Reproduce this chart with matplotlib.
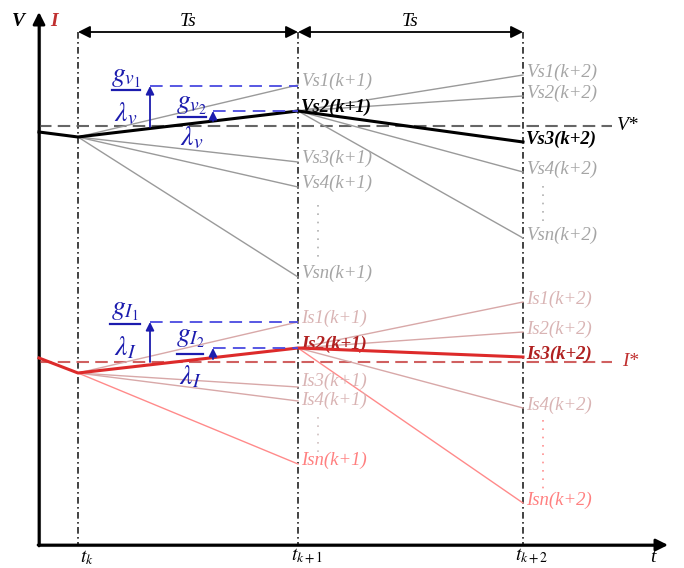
import matplotlib
matplotlib.use("Agg")
import matplotlib.pyplot as plt

plt.rcParams['mathtext.fontset'] = 'stix'
SERIF = 'Liberation Serif'

# ---- data (schematic coordinates, y grows downward) ----
t_pos = [78, 298, 523]
t_labels = [r'$t_k$', r'$t_{k+1}$', r'$t_{k+2}$']
origin_x = 39
axis_y = 545

v_ref = 126
v_path_y = [132, 137, 111, 142]          # at origin, t_k, t_k+1, t_k+2
vs_k1 = [85, 111, 162, 187, 277]
vs_k2 = [75, 96, 142, 172, 238]
vs_names = ['Vs1', 'Vs2', 'Vs3', 'Vs4', 'Vsn']

i_ref = 362
i_path_y = [358, 373, 348, 357]
is_k1 = [322, 348, 387, 401, 464]
is_k2 = [302, 332, 357, 408, 503]
is_names = ['Is1', 'Is2', 'Is3', 'Is4', 'Isn']

sel_k1 = 1   # chosen at k+1
sel_k2 = 2   # chosen at k+2

fig = plt.figure(figsize=(6.84, 5.68), dpi=100)
ax = fig.add_axes([0, 0, 1, 1])
ax.set_xlim(0, 684)
ax.set_ylim(568, 0)
ax.axis('off')

# axes
ax.annotate('', xy=(origin_x, 12), xytext=(origin_x, axis_y + 1),
            arrowprops=dict(arrowstyle='-|>', color='black', lw=2, mutation_scale=18,
                            shrinkA=0, shrinkB=0))
ax.annotate('', xy=(668, axis_y), xytext=(origin_x - 1, axis_y),
            arrowprops=dict(arrowstyle='-|>', color='black', lw=2, mutation_scale=18,
                            shrinkA=0, shrinkB=0))
ax.plot([origin_x, 660], [axis_y, axis_y], color='#555555', lw=2.2, solid_capstyle='butt')
ax.plot([origin_x, origin_x], [axis_y, 22], color='#555555', lw=2.2, solid_capstyle='butt')

ax.text(18, 22, 'V', fontsize=14, family=SERIF, style='italic', weight='bold', ha='center', va='center')
ax.text(54, 22, 'I', fontsize=14, family=SERIF, style='italic', weight='bold', color='#c03030',
        ha='center', va='center')
ax.text(653, 566, 't', fontsize=14, family=SERIF, style='italic', ha='center', va='bottom')

# vertical dash-dot lines and time labels
for x, lab in zip(t_pos, t_labels):
    ax.plot([x, x], [32, axis_y], color='#222222', lw=1.2, ls=(0, (4, 2, 1, 2)))
    ax.text(x + 9, 567, lab, fontsize=14, ha='center', va='bottom')

# Ts arrows
for a, b in [(t_pos[0], t_pos[1]), (t_pos[1], t_pos[2])]:
    ax.annotate('', xy=(b, 32), xytext=(a, 32),
                arrowprops=dict(arrowstyle='<|-|>', color='black', lw=1.3, mutation_scale=18,
                                shrinkA=0, shrinkB=0))
    ax.text((a + b) / 2, 21, 'Ts', fontsize=14, family=SERIF, style='italic', ha='center', va='center')

# reference lines
ax.plot([origin_x, 612], [v_ref, v_ref], color='#666666', lw=1.5, ls=(0, (6, 3)))
ax.text(628, 126, 'V*', fontsize=14, family=SERIF, style='italic', ha='center', va='center')
ax.plot([origin_x, 612], [i_ref, i_ref], color='#d06060', lw=1.5, ls=(0, (6, 3)))
ax.text(630, 361, 'I*', fontsize=14, family=SERIF, style='italic', color='#c03030',
        ha='center', va='center')

def draw_family(path_y, k1, k2, names, line_col, last_col, sel_col, lab_col, last_lab_col,
                sel_lab_col, dots_col1, dots_col2, dots1, dots2, k1_shift):
    x0, x1, x2 = t_pos
    for j, y in enumerate(k1):
        if j == sel_k1:
            continue
        c = last_col if j == len(k1) - 1 else line_col
        ax.plot([x0, x1], [path_y[1], y], color=c, lw=1)
    for j, y in enumerate(k2):
        if j == sel_k2:
            continue
        c = last_col if j == len(k2) - 1 else line_col
        ax.plot([x1, x2], [path_y[2], y], color=c, lw=1)
    ax.plot([origin_x, x0, x1, x2], path_y, color=sel_col, lw=2.2, zorder=5)
    for j, (y, n) in enumerate(zip(k1, names)):
        col = sel_lab_col if j == sel_k1 else (last_lab_col if j == len(k1) - 1 else lab_col)
        w = 'bold' if j == sel_k1 else 'normal'
        ax.text(x1 + 3, y - 4 + k1_shift[j], n + '(k+1)', fontsize=13.5, family=SERIF, style='italic',
                weight=w, color=col, ha='left', va='center')
    for j, (y, n) in enumerate(zip(k2, names)):
        col = sel_lab_col if j == sel_k2 else (last_lab_col if j == len(k2) - 1 else lab_col)
        w = 'bold' if j == sel_k2 else 'normal'
        ax.text(x2 + 3, y - 3, n + '(k+2)', fontsize=13.5, family=SERIF, style='italic',
                weight=w, color=col, ha='left', va='center')
    ax.plot([318, 318], dots1, color=dots_col1, lw=1.2, ls=(0, (1, 4)))
    ax.plot([543, 543], dots2, color=dots_col2, lw=1.2, ls=(0, (1, 4)))

draw_family(v_path_y, vs_k1, vs_k2, vs_names, '#9a9a9a', '#9a9a9a', 'black',
            '#a5a5a5', '#a5a5a5', 'black', '#b0b0b0', '#b0b0b0', [205, 257], [186, 227],
            [0, 0, 0, 0, 0])
draw_family(i_path_y, is_k1, is_k2, is_names, '#d8a8a8', '#ff8a8a', '#dd2a2a',
            '#d9b4b4', '#ff8080', '#b02020', '#d0c0c0', '#ff9090', [417, 452], [420, 494],
            [0, 0, -2, 3, 0])

# blue cost annotations
blue = '#1c1cae'
dblue = '#4a4ae0'
def cost(xa, y_from, y_to, num, den, lx, ny, by, dy, half):
    ax.plot([xa, t_pos[1]], [y_to, y_to], color=dblue, lw=1.3, ls=(0, (7, 4)), zorder=6)
    ax.annotate('', xy=(xa, y_to), xytext=(xa, y_from),
                arrowprops=dict(arrowstyle='-|>', color=blue, lw=1.3, mutation_scale=12,
                                shrinkA=0, shrinkB=0), zorder=7)
    ax.text(lx, ny, num, fontsize=20, color=blue, ha='center', va='center', zorder=8)
    ax.plot([lx - half, lx + half], [by, by], color=blue, lw=1.6, zorder=8)
    ax.text(lx, dy, den, fontsize=20, color=blue, ha='center', va='center', zorder=8)

cost(150, 127, 86, r'$g_{v_1}$', r'$\lambda_v$', 126, 76, 90, 113, 14)
cost(213, 121, 111, r'$g_{v_2}$', r'$\lambda_v$', 192, 103, 117, 137, 14)
cost(150, 362, 322, r'$g_{I_1}$', r'$\lambda_I$', 125, 309, 324, 347, 15)
cost(213, 359, 348, r'$g_{I_2}$', r'$\lambda_I$', 190, 336, 354, 376, 13)

fig.savefig('out.png', dpi=100)
